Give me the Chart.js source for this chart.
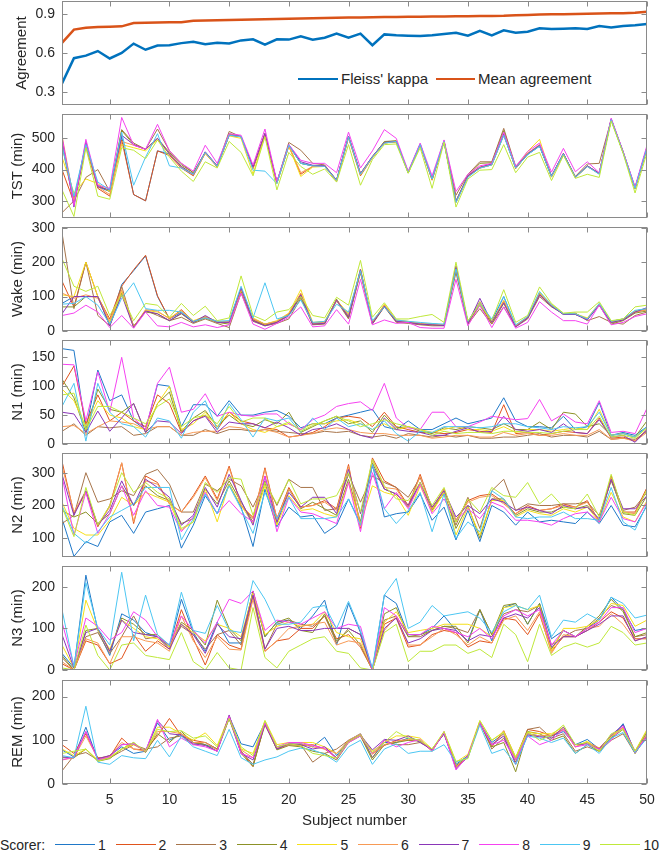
<!DOCTYPE html>
<html>
<head>
<meta charset="utf-8">
<script src="https://cdn.jsdelivr.net/npm/chart.js@4.4.0/dist/chart.umd.min.js"></script>
<style>
  body { margin: 0; background: #fff; width: 660px; height: 854px; position: relative; overflow: hidden;
         font-family: 'Liberation Sans', Arial, sans-serif; color: #262626; }
  canvas { position: absolute; left: 0; }
  .leg { position: absolute; font-size: 15px; line-height: 18px; white-space: nowrap; }
  .seg { position: absolute; height: 0; }
</style>
</head>
<body>
<div id="legends"></div>
<script>
// x axis
const subjects = Array.from({ length: 50 }, (_, i) => i + 1);
const xTicks = [5, 10, 15, 20, 25, 30, 35, 40, 45, 50];

// top panel
const kappa = [0.365,0.56,0.58,0.615,0.558,0.60,0.672,0.625,0.658,0.66,
  0.676,0.686,0.668,0.679,0.674,0.697,0.705,0.664,0.705,0.703,
  0.728,0.703,0.718,0.749,0.718,0.749,0.66,0.743,0.736,0.733,
  0.73,0.736,0.746,0.756,0.733,0.77,0.736,0.774,0.756,0.764,
  0.79,0.785,0.787,0.79,0.785,0.808,0.797,0.808,0.813,0.823];
const meanAgreement = [0.677,0.78,0.795,0.80,0.802,0.805,0.83,0.832,0.834,0.836,
  0.837,0.848,0.85,0.851,0.853,0.855,0.857,0.859,0.861,0.863,
  0.865,0.867,0.869,0.871,0.873,0.874,0.875,0.876,0.877,0.878,
  0.879,0.88,0.881,0.882,0.883,0.884,0.885,0.886,0.89,0.892,
  0.896,0.898,0.899,0.90,0.902,0.904,0.905,0.906,0.91,0.918];

// per scorer (1..10), minutes per subject
const tst = [
  [495,305,478,345,330,505,320,300,460,450, 405,385,455,410,510,505,405,515,358,478, 420,412,410,365,505,385,440,485,490,390, 480,368,490,295,378,405,415,510,405,448, 475,378,450,375,410,388,560,455,340,470],
  [400,295,475,340,315,495,320,300,460,445, 405,380,452,408,512,505,403,512,356,475, 385,410,412,362,502,380,438,487,488,390, 478,366,490,298,380,408,418,515,403,450, 478,376,452,374,412,386,562,455,338,470],
  [262,300,375,400,330,528,485,465,530,460, 420,390,455,412,522,505,408,515,360,487, 462,420,415,365,507,388,442,488,492,392, 482,370,492,318,385,425,425,532,410,452, 478,380,450,378,418,420,560,458,342,472],
  [480,290,480,350,330,525,480,465,500,455, 415,390,455,410,515,505,407,513,358,478, 420,412,410,367,505,385,440,490,492,390, 480,370,490,300,380,420,422,525,407,450, 476,378,450,376,412,388,560,455,340,470],
  [440,325,370,355,330,480,470,460,495,450, 410,385,452,410,508,500,385,510,356,475, 378,408,410,364,503,383,438,485,488,390, 478,368,490,296,378,405,415,512,405,458, 497,376,452,374,410,386,558,455,340,468],
  [510,300,480,345,320,490,478,465,500,450, 405,385,455,410,512,505,405,515,358,478, 390,410,410,365,505,385,440,485,490,390, 480,370,490,295,378,405,415,512,405,452, 480,378,450,375,410,388,560,455,340,470],
  [500,280,490,345,335,510,480,465,500,450, 410,385,457,412,510,507,408,516,360,480, 425,414,412,367,507,387,442,487,490,392, 482,370,492,298,380,406,418,514,407,450, 478,380,452,376,412,388,562,457,342,472],
  [505,285,497,350,340,567,478,465,545,460, 420,395,478,420,515,510,415,530,362,480, 430,420,420,390,520,405,460,528,500,395, 485,380,495,330,385,412,420,520,410,458, 485,392,468,393,425,390,565,458,345,478],
  [475,315,480,360,335,520,350,440,515,412, 405,385,455,410,510,505,398,395,355,478, 420,412,410,365,505,385,440,485,490,390, 480,370,490,295,375,405,415,510,405,448, 475,378,450,375,410,385,560,455,340,470],
  [335,250,470,315,305,470,462,435,495,440, 395,362,425,405,490,455,380,505,335,455, 410,385,402,360,480,350,432,480,482,388, 470,340,488,280,370,398,400,480,390,440, 455,365,445,372,385,375,555,452,325,455]
];
const wake = [
  [80,100,100,100,20,135,175,218,100,35, 55,25,40,28,28,125,35,20,28,48, 105,22,25,90,45,175,25,75,30,25, 22,20,18,185,25,85,28,100,15,40, 110,75,48,48,35,78,28,35,58,65],
  [145,70,200,100,35,130,178,220,102,35, 62,28,42,25,25,120,32,18,25,50, 108,20,22,92,40,180,22,72,28,25, 20,18,16,182,22,80,22,88,12,40, 105,72,50,50,35,78,25,32,55,62],
  [285,65,200,45,15,130,12,60,45,30, 40,22,35,22,10,110,28,15,22,35, 95,18,20,88,35,170,20,70,25,22, 18,15,15,170,20,65,20,70,12,35, 100,70,50,52,30,42,25,20,45,55],
  [70,70,100,100,15,110,15,55,50,30, 50,25,38,25,20,115,30,18,25,45, 100,20,22,92,38,172,22,72,28,25, 20,18,16,178,22,75,22,80,15,38, 108,72,50,50,35,75,20,30,52,58],
  [105,100,200,100,25,115,10,60,55,38, 58,30,42,28,25,120,38,20,30,52, 120,25,28,90,50,178,25,78,32,28, 22,20,18,190,25,85,25,88,15,42, 112,78,50,50,38,80,28,35,58,65],
  [110,95,105,95,30,120,12,62,58,35, 60,28,40,26,28,122,35,20,28,50, 110,22,25,88,45,175,25,75,30,25, 22,20,18,185,25,82,25,85,15,40, 108,75,48,48,35,78,25,35,55,62],
  [50,100,100,100,15,105,10,58,50,30, 52,25,45,25,25,125,30,15,25,45, 105,20,22,90,40,178,22,72,28,25, 20,18,16,188,22,95,25,82,12,38, 105,72,48,48,32,75,25,32,55,68],
  [45,52,75,55,10,45,8,55,15,12, 25,12,18,10,18,110,20,5,22,40, 70,12,15,62,20,150,18,32,22,25, 10,8,8,150,15,75,10,70,8,25, 85,55,30,30,20,75,18,25,42,50],
  [78,80,100,75,20,95,140,65,60,60, 55,28,38,28,30,130,38,140,35,45, 90,25,28,78,55,175,30,70,32,28, 25,22,20,180,28,80,35,100,18,42, 115,75,50,50,35,80,28,35,60,65],
  [210,130,115,130,45,105,30,80,75,40, 80,45,72,30,38,160,45,30,55,62, 100,45,38,98,75,205,40,82,35,35, 42,48,25,200,30,78,30,120,25,45, 128,80,52,55,55,85,30,35,70,75]
];
const n1 = [
  [165,162,25,128,75,85,40,25,103,100, 30,68,68,48,75,50,50,55,58,48, 28,35,35,45,50,55,60,30,25,40, 25,25,35,45,35,40,45,80,40,30, 30,28,48,25,30,72,15,20,15,30],
  [100,135,35,85,40,55,40,30,85,70, 20,40,50,25,55,40,35,28,25,12, 15,20,30,45,48,45,30,55,30,25, 20,20,18,20,25,22,20,68,18,20, 15,18,22,20,18,45,10,12,5,25],
  [22,35,15,30,28,30,15,18,30,30, 15,15,25,18,25,25,22,25,22,20, 18,18,22,20,22,15,12,15,10,18, 15,12,15,12,15,10,10,12,12,15, 18,12,15,15,12,22,8,10,8,22],
  [112,80,20,95,60,55,70,20,70,90, 22,45,58,30,50,35,30,42,35,55, 20,30,40,48,35,40,20,50,28,30, 22,18,28,25,30,28,25,35,25,25, 38,25,55,52,30,35,15,18,12,40],
  [95,75,30,75,50,45,30,25,70,100, 25,35,55,30,55,35,25,20,30,35, 25,35,35,40,42,35,25,35,25,30, 25,20,25,30,25,25,22,30,20,25, 25,22,25,28,25,60,15,18,12,28],
  [30,32,18,30,40,38,35,25,30,30, 15,20,22,22,30,28,22,25,20,12, 15,18,25,28,25,20,18,18,15,15, 15,10,12,15,15,12,12,20,15,18, 15,15,18,15,15,25,8,10,5,20],
  [55,52,20,57,22,45,70,20,40,38, 18,40,48,20,38,35,35,28,38,28, 15,25,28,35,25,15,10,45,25,22, 20,15,15,22,28,20,22,48,25,22, 25,20,35,20,18,42,12,15,3,25],
  [138,137,40,125,55,150,45,25,105,133, 55,60,87,48,55,50,48,52,52,35, 25,42,50,65,70,73,58,105,45,28, 25,55,55,30,30,38,48,45,42,44, 77,40,52,38,35,75,20,22,18,62],
  [65,105,5,105,55,35,30,12,45,40, 10,55,75,25,70,42,12,45,40,45, 20,45,25,45,30,35,25,40,18,5, 22,20,30,30,30,28,30,35,35,30, 28,25,30,28,30,55,15,18,12,30],
  [85,88,25,65,65,55,45,35,65,78, 30,45,50,35,65,38,45,45,30,38, 22,32,40,48,40,30,35,42,35,30, 25,15,22,18,20,20,18,22,22,20, 20,18,22,25,25,48,12,15,10,28]
];
const n2 = [
  [160,45,90,75,150,170,115,180,190,200, 70,140,230,175,265,195,75,250,135,195, 165,170,115,140,220,145,325,165,175,180, 235,155,195,95,185,90,200,180,140,180, 150,155,150,145,180,145,200,140,135,200],
  [335,175,240,135,200,330,145,290,270,205, 180,230,290,220,320,200,160,315,160,255, 195,200,215,190,325,130,345,275,255,200, 295,190,250,155,215,230,235,210,175,200, 185,190,205,195,215,150,290,180,180,255],
  [145,170,300,210,220,245,230,295,310,265, 180,180,265,245,280,260,195,275,200,280, 255,255,185,190,295,210,290,270,255,225, 285,195,235,140,225,130,245,280,185,205, 200,200,205,205,210,170,275,185,195,240],
  [185,165,180,145,175,260,200,260,230,215, 145,160,250,205,275,210,150,270,145,250, 190,210,190,170,280,150,330,250,235,195, 270,185,240,130,200,100,220,220,170,190, 180,180,195,190,200,155,280,175,170,230],
  [210,130,110,110,155,225,200,240,225,210, 125,150,250,150,265,200,145,260,140,230, 185,190,175,165,270,145,260,240,230,170, 260,180,240,110,195,110,215,215,165,185, 175,170,190,180,195,150,240,165,150,215],
  [320,180,245,140,195,330,150,275,265,205, 180,225,285,215,315,200,165,310,160,250, 195,200,210,185,320,135,340,255,250,195, 290,190,250,150,210,225,230,205,175,195, 185,190,200,195,210,150,285,180,175,250],
  [295,170,245,140,185,275,200,280,255,225, 140,170,255,195,295,215,140,290,150,240, 195,225,225,175,310,175,320,250,235,200, 270,195,245,165,200,175,220,210,185,195, 185,175,200,190,195,160,280,190,190,230],
  [290,110,240,115,175,260,170,245,200,195, 120,165,240,175,215,175,150,290,120,225, 180,175,160,145,270,120,300,190,240,190, 265,175,220,155,190,160,210,195,155,155, 150,140,160,175,180,150,225,160,150,210],
  [200,115,85,120,165,185,205,255,255,255, 95,160,235,175,260,190,115,240,160,225, 160,160,160,165,220,140,325,190,145,185, 240,120,235,100,150,120,245,220,165,160, 165,165,180,160,160,155,255,150,125,205],
  [195,105,255,140,200,300,240,270,240,220, 130,150,270,240,285,280,170,270,205,280, 205,220,220,230,300,180,340,260,220,215, 270,200,255,150,220,180,255,230,225,270, 205,235,195,190,235,165,295,180,170,250]
];
const n3 = [
  [40,5,228,95,35,135,120,90,80,55, 170,90,45,115,65,65,190,80,115,120, 100,130,168,60,160,90,0,180,160,85, 85,100,130,95,70,145,70,150,160,110, 160,75,95,80,100,120,175,145,95,100],
  [15,0,70,60,15,28,85,45,70,50, 145,75,12,85,60,50,180,45,70,75, 100,100,130,75,85,55,0,110,125,55, 60,85,95,90,55,70,65,125,120,85, 135,45,80,80,95,115,140,125,75,75],
  [30,0,80,90,40,80,130,75,80,60, 105,85,50,85,95,60,185,50,110,120, 110,105,130,65,100,85,0,120,130,80, 80,95,105,100,90,145,85,135,145,140, 155,60,80,95,100,125,155,145,80,85],
  [35,0,95,100,45,125,110,85,85,55, 115,95,60,168,100,70,190,80,115,125, 95,90,135,70,95,60,0,135,150,80, 85,95,105,105,65,145,85,155,160,110, 160,50,95,80,105,130,170,140,80,90],
  [60,5,168,95,50,120,100,80,75,55, 110,90,70,110,100,80,185,85,105,115, 105,110,140,90,80,75,0,115,140,90, 95,100,110,110,110,100,80,150,155,145, 155,45,100,100,105,120,160,155,105,120],
  [20,0,75,65,15,80,80,70,65,45, 130,70,30,80,50,48,170,45,70,100, 105,110,115,60,70,65,0,95,130,60, 60,80,100,85,60,80,65,120,130,95, 140,40,85,80,100,105,135,110,70,80],
  [85,5,90,100,45,120,90,85,80,50, 110,85,40,110,80,75,180,50,100,105, 95,95,100,100,100,85,0,100,125,65, 75,95,100,95,70,85,80,125,135,125, 150,55,80,80,95,110,130,130,70,80],
  [115,10,125,105,72,90,140,120,80,60, 130,95,65,115,170,160,190,95,120,115, 110,125,140,100,110,105,0,150,130,85, 85,105,100,90,80,100,75,130,145,130, 145,60,95,80,100,115,150,150,90,100],
  [145,8,210,100,60,235,70,180,85,60, 187,95,88,155,95,90,215,170,110,110, 115,150,155,100,165,95,5,180,220,100, 115,155,130,135,140,125,90,140,155,145, 180,80,120,115,135,120,175,160,125,132],
  [5,0,108,35,0,60,65,35,30,25, 90,20,0,42,5,0,150,30,5,45, 60,75,80,45,40,5,0,90,110,20, 45,45,60,60,40,50,30,110,85,20, 110,35,55,65,55,65,105,90,60,65]
];
const rem = [
  [78,62,130,55,65,85,70,75,140,100, 115,95,90,80,155,92,85,140,85,90, 92,85,107,65,100,115,60,95,95,105, 100,78,118,45,65,140,95,115,55,115, 110,110,120,90,102,80,105,138,72,118],
  [90,70,115,60,62,105,80,78,110,150, 110,100,95,80,155,75,40,140,80,90, 88,90,80,60,98,112,70,88,100,100, 100,75,120,38,62,142,85,122,60,125, 120,110,125,85,95,82,110,130,75,120],
  [30,65,72,55,60,75,90,80,85,105, 110,90,95,80,150,75,45,135,80,92, 90,50,70,80,100,110,60,100,90,90, 95,80,115,40,65,140,80,105,50,125, 130,105,115,75,85,75,100,115,70,110],
  [60,60,80,52,58,80,95,72,115,95, 120,95,90,75,150,70,40,140,78,88, 85,75,70,55,95,110,55,90,95,100, 98,78,115,42,62,140,85,95,28,120, 115,100,110,70,90,75,105,125,70,112],
  [80,65,80,55,62,80,90,75,130,130, 115,100,117,88,155,80,70,145,90,95, 95,95,85,70,95,112,75,95,110,110, 105,80,118,50,68,145,100,120,62,118, 115,115,130,85,98,78,108,128,75,125],
  [55,60,110,58,65,95,80,75,120,120, 115,95,95,78,155,78,60,140,82,90, 92,85,80,70,100,115,68,90,98,102, 100,75,118,40,62,142,90,115,55,115, 110,112,125,85,95,82,110,130,72,115],
  [62,60,120,58,65,90,92,75,145,115, 112,92,88,75,158,70,55,138,80,92, 90,80,85,60,98,112,78,102,100,110, 95,78,115,35,62,140,90,110,45,112, 108,105,130,90,92,80,112,135,72,108],
  [55,62,120,55,62,90,92,75,148,85, 105,90,85,75,155,70,60,140,85,95, 95,88,82,58,95,110,70,100,85,95, 102,76,118,32,65,140,90,100,55,110, 90,100,125,85,90,80,100,132,72,110],
  [65,60,178,50,45,65,60,58,100,62, 110,85,75,65,125,60,45,55,62,75, 82,78,68,50,85,100,45,80,92,70, 75,75,90,50,60,135,70,80,45,110, 105,95,105,70,90,70,105,118,72,105],
  [70,75,80,52,60,80,95,75,125,120, 122,105,110,85,150,85,65,145,85,92, 88,70,65,60,98,112,72,95,120,105, 100,80,120,52,58,145,100,118,60,120, 100,112,135,90,95,75,115,125,75,122]
];

const scorerColors = ['#1f78c8', '#e0531c', '#a7744a', '#8c9126', '#f5df1a',
                      '#f79a55', '#8a36b8', '#f542f0', '#4cc6f2', '#bfe83a'];
const TEXT = '#262626';
const FRAME = '#8a8a8a';
const FONT = "'Liberation Sans', Arial, sans-serif";
const PANEL_H = 104;

const panels = [
  { title: 'Agreement', top: 1,   min: 0.2, max: 1.0, ticks: [0.3, 0.6, 0.9], dec: 1, titlePad: 13 },
  { title: 'TST (min)',  top: 114, min: 245, max: 578, ticks: [300, 400, 500], dec: 0, titlePad: 9, series: tst },
  { title: 'Wake (min)', top: 227, min: 0,   max: 302, ticks: [0, 100, 200, 300], dec: 0, titlePad: 9, series: wake },
  { title: 'N1 (min)',   top: 340, min: 0,   max: 180, ticks: [0, 50, 100, 150], dec: 0, titlePad: 9, series: n1 },
  { title: 'N2 (min)',   top: 453, min: 43,  max: 360, ticks: [100, 200, 300], dec: 0, titlePad: 9, series: n2 },
  { title: 'N3 (min)',   top: 566, min: 0,   max: 250, ticks: [0, 100, 200], dec: 0, titlePad: 9, series: n3 },
  { title: 'REM (min)',  top: 680, min: 0,   max: 238, ticks: [0, 100, 200], dec: 0, titlePad: 9, series: rem }
];

// box with inward tick marks, as in the original figure
const framePlugin = {
  id: 'frame',
  afterDraw(chart, args, opts) {
    const { ctx, chartArea: a, scales } = chart;
    ctx.save();
    ctx.strokeStyle = FRAME;
    ctx.lineWidth = 1;
    const L = Math.round(a.left) + 0.5, R = Math.round(a.right) - 0.5;
    const T = Math.round(a.top) + 0.5, B = Math.round(a.bottom) - 0.5;
    ctx.strokeRect(L, T, R - L, B - T);
    ctx.beginPath();
    xTicks.forEach(v => {
      const x = Math.round(scales.x.getPixelForValue(v)) + 0.5;
      ctx.moveTo(x, B); ctx.lineTo(x, B - 5);
      ctx.moveTo(x, T); ctx.lineTo(x, T + 5);
    });
    opts.yTicks.forEach(v => {
      const y = Math.round(scales.y.getPixelForValue(v)) + 0.5;
      ctx.moveTo(L, y); ctx.lineTo(L + 5, y);
      ctx.moveTo(R, y); ctx.lineTo(R - 5, y);
    });
    ctx.stroke();
    ctx.restore();
  }
};

function makePanel(p, idx) {
  const isLast = idx === panels.length - 1;
  const padTop = Math.min(p.top, 14);
  const padBottom = isLast ? 0 : 14;
  const axisH = isLast ? 51 : 0;
  const canvas = document.createElement('canvas');
  canvas.width = 660;
  canvas.height = padTop + PANEL_H + padBottom + axisH;
  canvas.style.top = (p.top - padTop) + 'px';
  document.body.appendChild(canvas);

  let datasets;
  if (p.series) {
    datasets = p.series.map((vals, i) => ({
      data: vals, borderColor: scorerColors[i], borderWidth: 1, order: 10 - i
    }));
  } else {
    datasets = [
      { data: kappa, borderColor: '#0072BD', borderWidth: 2.5, order: 2 },
      { data: meanAgreement, borderColor: '#D95319', borderWidth: 2.5, order: 1 }
    ];
  }

  new Chart(canvas, {
    type: 'line',
    data: { labels: subjects, datasets: datasets },
    options: {
      responsive: false,
      animation: false,
      devicePixelRatio: 1,
      layout: { padding: { top: padTop, bottom: padBottom, left: 0, right: 13 } },
      elements: { point: { radius: 0 }, line: { tension: 0, fill: false } },
      plugins: { legend: { display: false }, tooltip: { enabled: false }, frame: { yTicks: p.ticks } },
      scales: {
        x: {
          type: 'linear', min: 1, max: 50, display: isLast,
          grid: { display: false, drawTicks: false },
          border: { display: false },
          afterBuildTicks: s => { s.ticks = xTicks.map(v => ({ value: v })); },
          afterFit: s => { s.height = axisH; s.paddingLeft = 0; s.paddingRight = 0; },
          ticks: { color: TEXT, font: { family: FONT, size: 14 }, padding: 8, maxRotation: 0, autoSkip: false },
          title: { display: isLast, text: 'Subject number', color: TEXT,
                   font: { family: FONT, size: 15 }, padding: { top: 0, bottom: 5 } }
        },
        y: {
          min: p.min, max: p.max,
          grid: { display: false, drawTicks: false },
          border: { display: false },
          afterBuildTicks: s => { s.ticks = p.ticks.map(v => ({ value: v })); },
          afterFit: s => { s.width = 62; s.paddingTop = 0; s.paddingBottom = 0; },
          ticks: { color: TEXT, font: { family: FONT, size: 14 }, padding: 7,
                   callback: v => v.toFixed(p.dec) },
          title: { display: true, text: p.title, color: TEXT,
                   font: { family: FONT, size: 15 }, padding: { top: p.titlePad, bottom: 0 } }
        }
      }
    },
    plugins: [framePlugin]
  });
}

panels.forEach(makePanel);

// legends (drawn as plain text and line segments)
const leg = document.getElementById('legends');
function addSeg(x, y, w, color, thick) {
  const d = document.createElement('div');
  d.className = 'seg';
  d.style.cssText = `left:${x}px;top:${y - thick / 2}px;width:${w}px;border-top:${thick}px solid ${color};`;
  leg.appendChild(d);
}
function addText(x, y, text, size) {
  const d = document.createElement('div');
  d.className = 'leg';
  d.style.cssText = `left:${x}px;top:${y - 9}px;font-size:${size}px;`;
  d.textContent = text;
  leg.appendChild(d);
}

addSeg(298, 79, 40, '#0072BD', 2.5);
addText(341, 79, "Fleiss' kappa", 15);
addSeg(436, 79, 39, '#D95319', 2.5);
addText(478, 79, 'Mean agreement', 15);

addText(0, 845, 'Scorer:', 14);
scorerColors.forEach((c, i) => {
  const x0 = 55 + i * 60.6;
  addSeg(x0, 845, 40, c, 1.5);
  addText(x0 + 43, 845, String(i + 1), 14);
});
</script>
</body>
</html>
